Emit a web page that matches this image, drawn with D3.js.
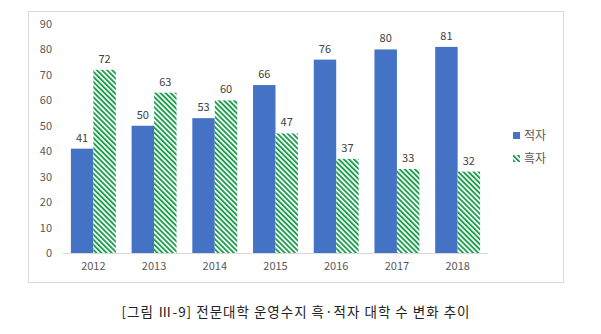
<!DOCTYPE html>
<html><head><meta charset="utf-8">
<script src="https://cdn.jsdelivr.net/npm/d3@7"></script>
<style>body{margin:0;background:#fff}</style>
</head><body>
<svg id="c" width="601" height="334"></svg>
<script>
const years = ["2012","2013","2014","2015","2016","2017","2018"];
const deficit = [41,50,53,66,76,80,81];   // 적자
const surplus = [72,63,60,47,37,33,32];   // 흑자
const seriesNames = ["적자","흑자"];
const yTicks = [0,10,20,30,40,50,60,70,80,90];
const title = "[그림 Ⅲ-9] 전문대학 운영수지 흑·적자 대학 수 변화 추이";

const svg = d3.select("#c");
const font = "'Noto Sans CJK KR','Noto Sans',sans-serif";
const defs = svg.append("defs");
const pat = defs.append("pattern").attr("id","hatch").attr("patternUnits","userSpaceOnUse")
  .attr("width",3.6).attr("height",3.6).attr("patternTransform","rotate(-45)");
pat.append("rect").attr("width",3.6).attr("height",3.6).attr("fill","#fff");
pat.append("rect").attr("x",0).attr("width",1.9).attr("height",3.6).attr("fill","#1f9e4f");

svg.append("rect").attr("x",28.5).attr("y",11.5).attr("width",535).attr("height",271)
  .attr("fill","#fff").attr("stroke","#d9d9d9");

const x = d3.scaleBand().domain(years).range([63,488]).paddingInner(0.26).paddingOuter(0.13);
const x1 = d3.scaleBand().domain([0,1]).range([0,x.bandwidth()]);
const y = d3.scaleLinear().domain([0,90]).range([253,24]);

const gy = svg.append("g").attr("transform","translate(56,0)")
  .call(d3.axisLeft(y).tickValues(yTicks).tickSize(0).tickPadding(4));
gy.select(".domain").remove();
gy.selectAll("text").attr("font-family",font).attr("font-size",11).attr("fill","#595959");

svg.append("line").attr("x1",63).attr("x2",488).attr("y1",253.5).attr("y2",253.5).attr("stroke","#d9d9d9");

const gx = svg.append("g").attr("transform","translate(0,253)")
  .call(d3.axisBottom(x).tickSize(0).tickPadding(9));
gx.select(".domain").remove();
gx.selectAll("text").attr("font-family",font).attr("font-size",11).attr("fill","#595959");

const series = [deficit, surplus];
const fills = ["#4472c4","url(#hatch)"];
series.forEach((vals,si)=>{
  svg.append("g").selectAll("rect").data(vals).join("rect")
    .attr("x",(d,i)=>x(years[i])+x1(si)).attr("width",x1.bandwidth())
    .attr("y",d=>y(d)).attr("height",d=>y(0)-y(d)).attr("fill",fills[si]);
  svg.append("g").selectAll("text").data(vals).join("text")
    .attr("x",(d,i)=>x(years[i])+x1(si)+x1.bandwidth()/2).attr("y",d=>y(d)-7)
    .attr("text-anchor","middle").attr("font-family",font).attr("font-size",11).attr("fill","#404040")
    .text(d=>d);
});

const lg = svg.append("g");
seriesNames.forEach((n,i)=>{
  const yy = 136 + i*23;
  lg.append("rect").attr("x",513).attr("y",yy-4).attr("width",7).attr("height",7).attr("fill",fills[i]);
  lg.append("text").attr("x",524).attr("y",yy).attr("dy","0.35em").attr("font-family",font)
    .attr("font-size",12).attr("fill","#595959").text(n);
});

svg.append("text").attr("x",296).attr("y",312).attr("dy","0.35em").attr("text-anchor","middle")
  .attr("font-family",font).attr("font-size",13.5).attr("letter-spacing",1).attr("fill","#222").text(title);
</script>
</body></html>
